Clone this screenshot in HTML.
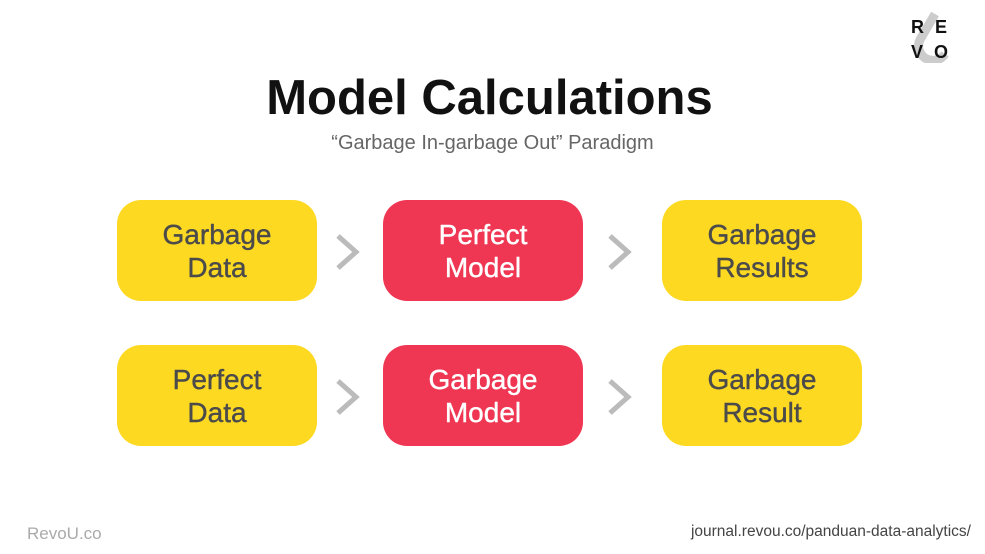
<!DOCTYPE html>
<html><head><style>
body{margin:0;width:985px;height:554px;background:#fff;position:relative;overflow:hidden;font-family:"Liberation Sans",sans-serif}
.t{position:absolute;left:0;width:985px;text-align:center}
.b{position:absolute;width:200px;height:101px;border-radius:24px;display:flex;align-items:center;justify-content:center;text-align:center;font-size:28px;line-height:33px;color:#4b4b4b;-webkit-text-stroke:0.4px currentColor}
.y{background:#FDD922}.r{background:#EF3753;color:#fff}
.c{position:absolute;width:30px;height:40px}
</style></head><body>
<div class="t" style="top:70px;left:-3px;font-size:49px;font-weight:bold;color:#111">Model Calculations</div>
<div class="t" style="top:132px;font-size:20px;color:#666">“Garbage In-garbage Out” Paradigm</div>
<div class="b y" style="left:117px;top:200px">Garbage<br>Data</div>
<div class="b r" style="left:383px;top:200px">Perfect<br>Model</div>
<div class="b y" style="left:662px;top:200px">Garbage<br>Results</div>
<div class="b y" style="left:117px;top:345px">Perfect<br>Data</div>
<div class="b r" style="left:383px;top:345px">Garbage<br>Model</div>
<div class="b y" style="left:662px;top:345px">Garbage<br>Result</div>
<svg class="c" style="left:334px;top:232px"><polyline points="4,4 22,20 4,36" fill="none" stroke="#bbb" stroke-width="5"/></svg>
<svg class="c" style="left:606px;top:232px"><polyline points="4,4 22,20 4,36" fill="none" stroke="#bbb" stroke-width="5"/></svg>
<svg class="c" style="left:334px;top:377px"><polyline points="4,4 22,20 4,36" fill="none" stroke="#bbb" stroke-width="5"/></svg>
<svg class="c" style="left:606px;top:377px"><polyline points="4,4 22,20 4,36" fill="none" stroke="#bbb" stroke-width="5"/></svg>
<svg style="position:absolute;left:905px;top:8px" width="55" height="55">
<path d="M30 6 L16 30 A13 13 0 0 0 40 46" fill="none" stroke="#ccc" stroke-width="9"/>
<text x="6" y="25" font-size="18" font-weight="bold" fill="#111" font-family="Liberation Sans">R</text>
<text x="30" y="25" font-size="18" font-weight="bold" fill="#111" font-family="Liberation Sans">E</text>
<text x="6" y="50" font-size="18" font-weight="bold" fill="#111" font-family="Liberation Sans">V</text>
<text x="29" y="50" font-size="18" font-weight="bold" fill="#111" font-family="Liberation Sans">O</text>
</svg>
<div style="position:absolute;left:27px;top:524px;font-size:17px;color:#aaa">RevoU.co</div>
<div style="position:absolute;right:14px;top:523px;font-size:15.5px;color:#444">journal.revou.co/panduan-data-analytics/</div>
</body></html>
